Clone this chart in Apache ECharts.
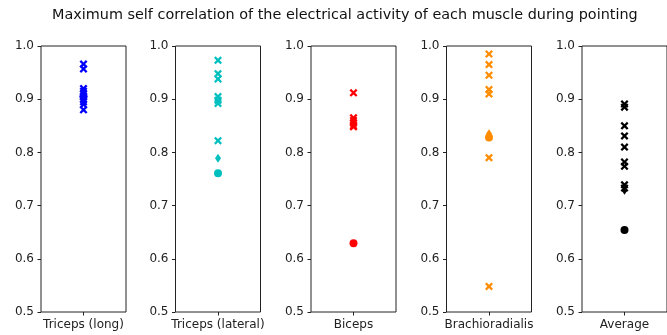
<!DOCTYPE html>
<html><head><meta charset="utf-8">
<script src="https://cdn.jsdelivr.net/npm/echarts@6/dist/echarts.min.js"></script>
<style>html,body{margin:0;padding:0;background:#fff}#c{width:667px;height:335px}</style>
</head><body><div id="c"></div>
<script>
const title = "Maximum self correlation of the electrical activity of each muscle during pointing";
const muscles = ["Triceps (long)", "Triceps (lateral)", "Biceps", "Brachioradialis", "Average"];
const colors = ["#0000ff", "#00bfbf", "#ff0000", "#ff8c00", "#000000"];
const tricepsLong = [0.966, 0.957, 0.920, 0.915, 0.910, 0.905, 0.900, 0.895, 0.890, 0.880];
const tricepsLateral = [0.973, 0.948, 0.938, 0.905, 0.898, 0.892, 0.822];
const biceps = [0.912, 0.865, 0.860, 0.855, 0.850, 0.848];
const brachioradialis = [0.985, 0.965, 0.945, 0.918, 0.910, 0.790, 0.548];
const average = [0.891, 0.885, 0.850, 0.831, 0.810, 0.782, 0.774, 0.739, 0.733];
const means = [0.905, 0.761, 0.629, 0.828, 0.654];
const medians = [0.910, 0.789, 0.855, 0.835, 0.729];
const yTicks = [0.5, 0.6, 0.7, 0.8, 0.9, 1.0];

const crossesAll = [tricepsLong, tricepsLateral, biceps, brachioradialis, average];
const lefts = [41, 175.5, 311, 446.5, 582];
const W = 85;
const crossPath = 'path://M0,2L2,0L5,3L8,0L10,2L7,5L10,8L8,10L5,7L2,10L0,8L3,5Z';
const diamondPath = 'path://M5,0L9,7L5,14L1,7Z';

const grids = [], xAxes = [], yAxes = [], series = [];
muscles.forEach((m, i) => {
  grids.push({left: lefts[i], top: 46, width: W, height: 266, show: true, borderColor: '#222', borderWidth: 1, containLabel: false});
  xAxes.push({type: 'category', gridIndex: i, data: [m], boundaryGap: true,
    axisLine: {show: false}, axisTick: {show: true, alignWithLabel: true, length: 3.5, lineStyle: {color: '#222'}},
    axisLabel: {color: '#222', fontSize: 12, fontFamily: 'DejaVu Sans', margin: 7}, splitLine: {show: false}});
  yAxes.push({type: 'value', gridIndex: i, min: yTicks[0], max: yTicks[yTicks.length - 1], interval: 0.1,
    axisLine: {show: false}, axisTick: {show: true, length: 3.5, lineStyle: {color: '#222'}},
    axisLabel: {color: '#222', fontSize: 12, fontFamily: 'DejaVu Sans', margin: 7, formatter: v => v.toFixed(1)},
    splitLine: {show: false}});
  series.push({type: 'scatter', xAxisIndex: i, yAxisIndex: i, symbol: crossPath, symbolSize: 8,
    itemStyle: {color: colors[i], opacity: 1}, data: crossesAll[i].map(v => [0, v]), silent: true});
  series.push({type: 'scatter', xAxisIndex: i, yAxisIndex: i, symbol: 'circle', symbolSize: 8,
    itemStyle: {color: colors[i], opacity: 1}, data: [[0, means[i]]], silent: true});
  series.push({type: 'scatter', xAxisIndex: i, yAxisIndex: i, symbol: diamondPath, symbolSize: [6, 9],
    itemStyle: {color: colors[i], opacity: 1}, data: [[0, medians[i]]], silent: true});
});

const chart = echarts.init(document.getElementById('c'), null, {renderer: 'canvas'});
chart.setOption({
  animation: false,
  title: {text: title, left: 47, top: 3, textStyle: {fontSize: 14.4, fontWeight: 'normal', color: '#111', fontFamily: 'DejaVu Sans'}},
  grid: grids, xAxis: xAxes, yAxis: yAxes, series: series
});
</script></body></html>
